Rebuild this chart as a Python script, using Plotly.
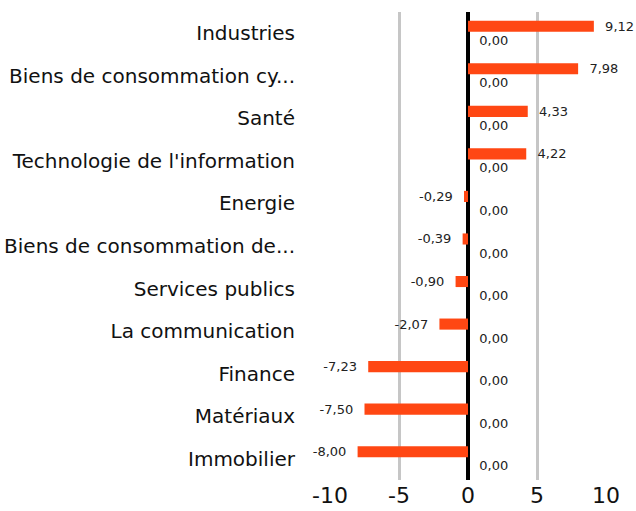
import plotly.graph_objects as go

categories = ["Industries", "Biens de consommation cy...", "Santé",
              "Technologie de l'information", "Energie",
              "Biens de consommation de...", "Services publics",
              "La communication", "Finance", "Matériaux", "Immobilier"]
series_main = [9.12, 7.98, 4.33, 4.22, -0.29, -0.39, -0.90, -2.07, -7.23, -7.50, -8.00]
series_zero = [0.00] * 11
tick_vals = [-10, -5, 0, 5, 10]

PAD = "\u00a0\u00a0"


def fmt(v):
    s = f"{v:.2f}".replace(".", ",")
    return (s + PAD) if v < 0 else (PAD + s)


fig = go.Figure()
fig.add_trace(go.Bar(
    y=categories, x=series_main, orientation="h",
    marker=dict(color="#ff4713", line=dict(width=0)),
    text=[fmt(v) for v in series_main], texttemplate="%{text}",
    textposition="outside", cliponaxis=False,
    textfont=dict(size=13, color="#222222"),
))
fig.add_trace(go.Bar(
    y=categories, x=series_zero, orientation="h",
    marker=dict(color="#aaaaaa", line=dict(width=0)),
    text=[fmt(v) for v in series_zero], texttemplate="%{text}",
    textposition="outside", cliponaxis=False,
    textfont=dict(size=13, color="#222222"),
))

fig.update_layout(
    width=636, height=511,
    barmode="group", bargap=0.34, bargroupgap=0.21,
    showlegend=False,
    plot_bgcolor="white", paper_bgcolor="white",
    font=dict(family="DejaVu Sans, sans-serif", color="#111111"),
    margin=dict(l=330, r=30, t=12, b=31, autoexpand=False),
    uniformtext=dict(minsize=13, mode="show"),
)
fig.update_xaxes(
    range=[-10, 10], tickvals=tick_vals, ticktext=[str(v) for v in tick_vals],
    showgrid=True, gridcolor="#c6c6c6", gridwidth=2.5,
    zeroline=True, zerolinecolor="black", zerolinewidth=4,
    tickfont=dict(size=22, color="#111111"), showline=False, ticks="",
    automargin=False,
)
fig.update_yaxes(
    autorange="reversed", showgrid=False, zeroline=False,
    tickfont=dict(size=20, color="#111111"),
    ticks="outside", ticklen=30, tickcolor="rgba(0,0,0,0)",
    automargin=False,
)

fig.write_html("out.html", config={"displayModeBar": False},
               post_script="document.body.style.margin='0';")
